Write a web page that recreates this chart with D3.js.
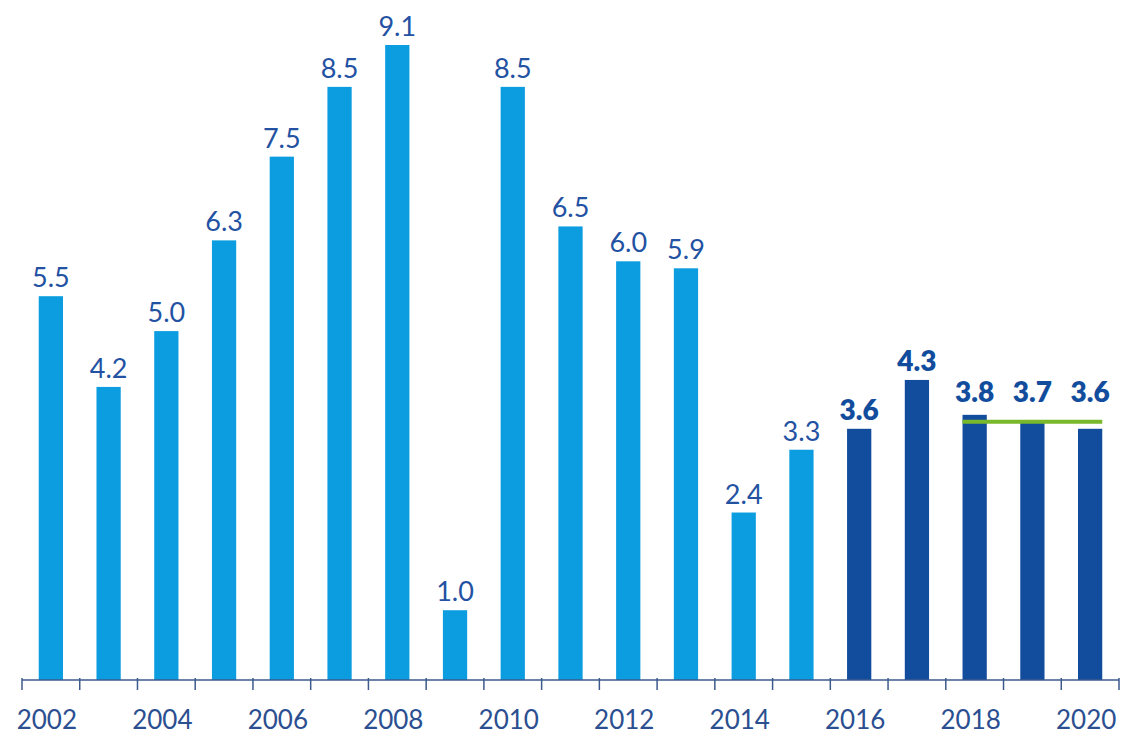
<!DOCTYPE html>
<html>
<head>
<meta charset="utf-8">
<script src="https://cdn.jsdelivr.net/npm/d3@7"></script>
<style>
  body { margin: 0; background: #fff; }
  svg { display: block; font-family: "Lato", "Open Sans", sans-serif; }
</style>
</head>
<body>
<svg></svg>
<script>
// years and values
var years = [2002, 2003, 2004, 2005, 2006, 2007, 2008, 2009, 2010, 2011,
             2012, 2013, 2014, 2015, 2016, 2017, 2018, 2019, 2020];
var values = [5.5, 4.2, 5.0, 6.3, 7.5, 8.5, 9.1, 1.0, 8.5, 6.5,
              6.0, 5.9, 2.4, 3.3, 3.6, 4.3, 3.8, 3.7, 3.6];
var forecastFrom = 2016;            // dark bars from here on
var tickYears = [2002, 2004, 2006, 2008, 2010, 2012, 2014, 2016, 2018, 2020];
var targetValue = 3.7;              // green line
var targetYears = [2018, 2020];

var LIGHT = "#0b9de0", DARK = "#124d9d", LABEL = "#2352a3", AXIS = "#3d5a8c", GREEN = "#79b82a";

var svg = d3.select("svg").attr("width", 1126).attr("height", 735);

var baseY = 680;

var x = d3.scaleBand()
  .domain(years)
  .range([22, 1119])
  .paddingInner(0.58)
  .paddingOuter(0.29);

var y = d3.scaleLinear()
  .domain([0, 9.1])
  .range([baseY, 45]);

var data = years.map(function(yr, i) { return {year: yr, value: values[i]}; });

function inTarget(yr) { return yr >= targetYears[0] && yr <= targetYears[1]; }

// bars
svg.selectAll(".bar")
  .data(data)
  .enter().append("rect")
    .attr("class", "bar")
    .attr("x", function(d) { return x(d.year); })
    .attr("y", function(d) { return y(d.value); })
    .attr("width", x.bandwidth())
    .attr("height", function(d) { return baseY - y(d.value); })
    .attr("fill", function(d) { return d.year >= forecastFrom ? DARK : LIGHT; });

// value labels (the ones over the green line sit above it)
svg.selectAll(".lbl")
  .data(data)
  .enter().append("text")
    .attr("class", "lbl")
    .attr("x", function(d) { return x(d.year) + x.bandwidth() / 2; })
    .attr("y", function(d) {
      if (inTarget(d.year)) return y(targetValue) - 20;
      return y(d.value) - 9;
    })
    .attr("text-anchor", "middle")
    .attr("font-size", function(d) { return d.year >= forecastFrom ? 28 : 27; })
    .attr("font-weight", function(d) { return d.year >= forecastFrom ? 800 : 400; })
    .attr("fill", function(d) { return d.year >= forecastFrom ? DARK : LABEL; })
    .text(function(d) { return d3.format(".1f")(d.value); });

// target line
svg.append("line")
  .attr("x1", x(targetYears[0]))
  .attr("x2", x(targetYears[1]) + x.bandwidth())
  .attr("y1", y(targetValue))
  .attr("y2", y(targetValue))
  .attr("stroke", GREEN)
  .attr("stroke-width", 4);

// axis line and boundary ticks
var step = x.step();
var off = step * x.paddingInner() / 2;
var bounds = years.map(function(yr) { return x(yr) - off; });
bounds.push(x(years[years.length - 1]) + x.bandwidth() + off);

svg.append("line")
  .attr("x1", x.range()[0]).attr("x2", x.range()[1])
  .attr("y1", baseY).attr("y2", baseY)
  .attr("stroke", AXIS).attr("stroke-width", 1.5);

svg.selectAll(".btick")
  .data(bounds)
  .enter().append("line")
    .attr("class", "btick")
    .attr("x1", function(d) { return d; }).attr("x2", function(d) { return d; })
    .attr("y1", baseY - 2).attr("y2", baseY + 10)
    .attr("stroke", AXIS).attr("stroke-width", 1.5);

// year labels
var ax = svg.append("g")
  .attr("transform", "translate(-4," + baseY + ")")
  .call(d3.axisBottom(x).tickValues(tickYears).tickSize(0).tickPadding(0));
ax.select(".domain").remove();
ax.selectAll("text")
  .attr("y", 49)
  .attr("dy", 0)
  .attr("font-size", 26)
  .attr("font-family", "Lato, 'Open Sans', sans-serif")
  .attr("fill", "#2b4f90");
</script>
</body>
</html>
